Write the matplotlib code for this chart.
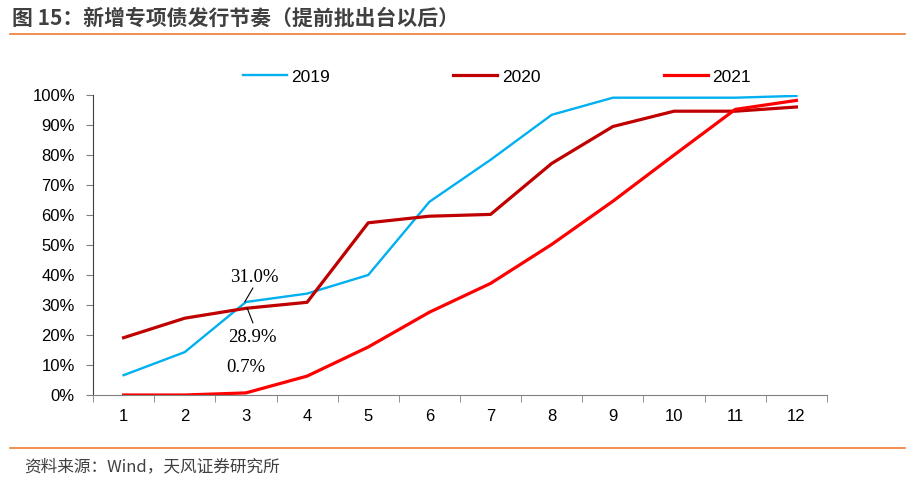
import matplotlib.pyplot as plt
from matplotlib.ticker import FuncFormatter, FixedLocator

plt.rcParams['font.family'] = ['Liberation Sans', 'Noto Sans CJK SC', 'DejaVu Sans']

months = list(range(1, 13))
y2019 = [6.6, 14.3, 31.0, 33.8, 40.0, 64.4, 78.4, 93.4, 99.1, 99.1, 99.1, 99.7]
y2020 = [19.1, 25.6, 28.9, 30.9, 57.4, 59.6, 60.2, 77.2, 89.5, 94.6, 94.6, 96.0]
y2021 = [0.0, 0.0, 0.7, 6.3, 16.0, 27.6, 37.2, 50.2, 64.6, 80.0, 95.2, 98.2]

fig = plt.figure(figsize=(9.17, 4.88), dpi=100)
ax = fig.add_axes([93 / 917, 1 - 395 / 488, 734 / 917, 300 / 488])

ax.plot(months, y2019, color='#00B0F0', lw=1.7, label='2019')
ax.plot(months, y2020, color='#C00000', lw=2.3, label='2020')
ax.plot(months, y2021, color='#FF0000', lw=2.3, label='2021')

ax.set_xlim(0.5, 12.5)
ax.set_ylim(0, 100)
ax.set_yticks(range(0, 101, 10))
ax.yaxis.set_major_formatter(FuncFormatter(lambda v, p: f'{v:.0f}%'))
ax.set_xticks(months)
ax.xaxis.set_minor_locator(FixedLocator([m + 0.5 for m in range(0, 13)]))
ax.tick_params(axis='x', which='major', length=0, pad=10, labelsize=12)
ax.tick_params(axis='x', which='minor', length=5, direction='out', color='#808080')
ax.tick_params(axis='y', length=5, color='#808080', labelsize=12, pad=8)
for s in ['top', 'right']:
    ax.spines[s].set_visible(False)
ax.spines['left'].set_color('#404040')
ax.spines['bottom'].set_color('#808080')

# annotations near month 3
serif = ['Liberation Serif', 'DejaVu Serif']
ax.text(3.14, 39, '31.0%', family=serif, fontsize=13.5, ha='center', va='center')
ax.text(3.11, 19, '28.9%', family=serif, fontsize=13.5, ha='center', va='center')
ax.text(3.0, 9, '0.7%', family=serif, fontsize=13.5, ha='center', va='center')
ax.annotate('', xy=(2.98, 31.0), xytext=(3.115, 35.7),
            arrowprops=dict(arrowstyle='-', color='black', lw=0.8, shrinkA=0, shrinkB=0))
ax.annotate('', xy=(3.02, 29.0), xytext=(3.115, 24.0),
            arrowprops=dict(arrowstyle='-', color='black', lw=0.8, shrinkA=0, shrinkB=0))

ax.legend(loc='center', bbox_to_anchor=(0.55, 1.06), ncol=3, frameon=False,
          fontsize=12.5, handlelength=2.55, columnspacing=7.1, handletextpad=0.25)

# title, rules and source
fig.text(12 / 917, 1 - 18 / 488, '图 15：新增专项债发行节奏（提前批出台以后）', fontsize=15,
         fontweight='bold', color='#404040', va='center', ha='left',
         family=['Noto Sans CJK SC', 'DejaVu Sans'])
fig.add_artist(plt.Line2D([10 / 917, 905 / 917], [1 - 34 / 488] * 2, color='#ED7D31', lw=1.2))
fig.add_artist(plt.Line2D([10 / 917, 905 / 917], [1 - 448 / 488] * 2, color='#ED7D31', lw=1.2))
fig.text(24 / 917, 1 - 467 / 488, '资料来源：Wind，天风证券研究所', fontsize=12,
         color='#404040', va='center', ha='left', family=['Noto Sans CJK SC', 'DejaVu Sans'])

fig.savefig('out.png', dpi=100)
